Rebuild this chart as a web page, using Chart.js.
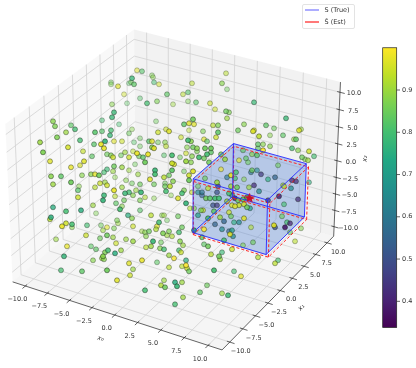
<!DOCTYPE html>
<html>
<head>
<meta charset="utf-8">
<style>
  html, body { margin: 0; padding: 0; background: #fff; }
  canvas { display: block; }
</style>
<script src="https://cdn.jsdelivr.net/npm/chart.js@4"></script>
</head>
<body>
<canvas id="chart" width="416" height="368"></canvas>
<script>
// axes of the 3d box, in data units
const axisTicks = [-10, -7.5, -5, -2.5, 0, 2.5, 5, 7.5, 10];
const tickLabels = ["−10.0", "−7.5", "−5.0", "−2.5", "0.0", "2.5", "5.0", "7.5", "10.0"];
const colorTicks = [0.4, 0.5, 0.6, 0.7, 0.8, 0.9];
const colorLabels = ["0.4", "0.5", "0.6", "0.7", "0.8", "0.9"];
const colorRange = [0.338, 1.0];
const legendLabels = ["S (True)", "Ŝ (Est)"];

// the two boxes, [x0 low, x0 high, x1 low, x1 high, x2 low, x2 high]
const boxTrue = [1.6, 9.6, 0.5, 8.5, -7.2, 0.8];
const boxEst = [1.7, 9.9, 0.4, 8.4, -7.4, 0.5];
const boxCenter = [5.6, 4.5, -3.2];

// scatter points: a single view can't give x0/x1/x2 back,
// so each one is kept as its place on the view plane, plus how faded (far) it looks
const viewX = [
  -6.5,-6.5,-5.8,-4.7,-5.2,-6.4,-4.9,-6.2,-6.4,-7.4,
  -5.7,-12.3,-12.1,-10.5,-10.1,-11.0,-8.1,-7.4,-6.5,-6.6,
  -4.7,-13.6,-11.9,-9.6,-7.1,-7.5,-8.2,-6.2,-5.4,-7.2,
  -10.8,-13.3,-9.3,-8.4,-6.9,-6.5,-6.3,-5.5,-5.1,-4.7,
  -12.6,-9.2,-9.6,-10.5,-6.2,-5.4,-6.9,-7.2,-6.3,-4.7,
  -12.5,-11.5,-9.4,-8.5,-8.1,-7.7,-6.1,-5.0,-7.1,-7.6,
  -12.3,-10.5,
  -3.9,-3.4,-2.4,-2.3,-4.4,-4.5,-4.2,-2.2,-1.7,1.6,
  4.6,5.0,5.1,-3.6,-2.9,-1.9,-0.9,0.7,1.2,1.2,
  2.0,-0.3,3.4,3.9,5.0,5.3,5.1,1.7,0.8,1.3,
  1.8,3.7,4.2,1.3,-2.0,-4.4,-1.8,-1.0,-0.7,2.7,
  4.2,4.0,0.5,-3.6,-4.2,-2.7,-2.4,-1.8,1.2,1.5,
  2.8,3.1,-3.6,-2.4,-2.2,-1.1,-1.0,1.1,1.7,2.1,
  2.9,3.5,-4.3,-3.9,-2.8,-1.2,-0.4,0.4,1.0,2.1,
  3.1,3.5,1.6,-3.7,-3.3,-3.1,-4.1,-0.4,-0.2,1.0,
  1.5,2.3,2.8,3.3,4.5,4.9,-2.1,-0.4,0.8,1.7,
  1.3,1.3,-2.1,-3.8,-1.2,-2.6,-0.7,-0.3,-4.4,-3.6,
  -2.2,-1.1,4.5,2.9,4.1,5.1,
  7.8,11.0,6.8,6.2,9.0,9.8,7.7,7.8,9.4,10.7,
  8.3,12.5,12.3,11.8,12.0,8.2,8.7,9.4,8.2,8.7,
  11.6,12.2,13.3,13.8,12.6,12.9,13.2,6.7,7.6,8.1,
  7.0,7.2,6.3,10.2,6.0,7.6,7.5,8.1,8.5,9.9,
  9.2,6.8,5.9,5.5,13.3,11.6,12.0,7.8,10.7,
  -9.7,-8.1,-6.9,-6.2,-5.4,-9.8,-9.8,-7.2,-7.3,-6.1,
  -5.1,-4.7,-6.0,-5.2,-8.3,-12.3,-11.0,-9.5,-8.0,-5.6,
  -5.4,-4.8,-12.5,-12.6,-11.0,-11.4,-10.4,-10.4,-8.9,-7.5,
  -5.9,-5.8,-6.9,-7.3,-6.2,-12.0,-9.0,-7.6,-6.9,-6.3,
  -5.0,-6.0,-10.9,-8.5,-8.0,-6.8,-7.1,-5.5,-6.1,-7.3,
  -7.4,-8.3,-7.2,-11.2,-4.7,-11.5,-9.4,-6.9,-4.6,-5.9,
  -4.0,-3.5,-4.3,-3.6,-3.1,-2.2,-1.0,-0.6,-1.1,-0.5,
  0.6,0.8,0.2,1.0,1.6,2.2,3.2,1.4,1.8,-3.6,
  -2.5,-1.4,-1.2,-0.9,0.2,-4.4,-1.7,-4.3,-1.9,-2.0,
  -3.1,-3.4,-2.7,-3.0,-1.3,-0.7,-0.9,-0.4,0.3,0.6,
  1.8,2.8,2.6,2.8,3.2,0.4,-2.3,-4.3,-1.5,-2.5,
  -3.0,-1.6,-1.2,0.3,0.7,-0.7,-0.2,0.5,3.5,4.6,
  4.3,4.4,-3.4,-1.9,1.0,
  -4.3,-0.7,0.6,1.0,1.1,1.3,3.8,
  -1.2,-1.5,
  -1.1,-0.1,0.1,0.6,3.1,-3.1,2.4,4.6,5.2,0.7,-0.1,
  3.0,3.4,3.9,4.3,4.1,3.7,4.1,3.8,4.4,2.7,
  2.5,2.2,3.2,5.3,4.8,3.9,4.6,5.3,5.1,4.2,
  5.3,2.6,2.2,2.6,4.8,
  5.5,6.1,7.3,8.3,10.8,11.5,10.3,12.2,9.2,5.6,
  5.9,6.7,7.1,6.2,10.8,6.3,6.8,5.9,5.6,7.4,
  7.1,5.5,10.6,6.8,5.8,6.3,7.5,11.1,9.8,9.9,
  10.9,11.4,12.5,11.4,5.4,5.6,5.7,6.7,7.7,5.6,
  8.2,11.9,10.2,9.9,5.8,6.5
];
const viewY = [
  10.0,9.8,9.6,9.9,8.8,7.8,7.9,7.0,6.5,6.2,
  5.8,6.1,5.6,5.7,5.3,5.0,5.0,5.1,5.2,4.7,
  4.9,4.0,4.5,4.2,4.1,3.8,3.8,4.1,4.1,3.4,
  3.5,3.0,3.1,2.6,2.8,2.7,2.5,2.7,3.0,2.5,
  2.1,2.1,1.7,1.5,1.6,1.5,1.3,1.0,1.1,1.2,
  0.6,0.6,0.7,0.8,0.8,0.7,0.5,0.2,0.0,-0.1,
  -0.2,0.0,
  11.2,11.1,10.7,10.5,10.4,10.0,9.8,10.0,9.8,9.9,
  9.9,10.9,9.3,8.4,7.9,8.1,8.8,8.8,9.0,8.1,
  8.0,7.8,7.9,7.3,7.1,7.0,6.4,6.3,5.8,5.9,
  5.8,5.7,5.7,5.2,6.1,5.3,5.0,5.3,5.1,5.1,
  5.0,4.5,4.5,4.4,4.0,4.1,4.1,4.0,4.2,4.1,
  4.3,4.1,3.6,3.5,3.4,4.0,3.6,3.5,3.5,3.4,
  3.4,3.4,3.1,2.9,2.8,2.7,2.7,2.5,2.9,3.1,
  2.8,3.0,2.6,2.6,2.5,2.0,1.8,1.9,1.8,2.1,
  2.0,2.5,2.4,2.0,2.8,2.3,1.2,1.2,1.1,1.1,
  0.7,0.2,0.8,0.8,0.5,0.3,0.7,0.1,-0.1,-0.2,
  -0.2,-0.1,1.3,0.4,0.0,0.5,
  8.0,6.4,5.8,5.2,5.7,5.4,5.1,5.2,4.7,4.7,
  4.6,5.3,5.2,4.3,4.3,3.8,3.8,3.6,3.4,3.2,
  3.4,3.2,3.1,2.6,2.5,2.3,2.2,3.2,2.8,2.7,
  2.4,2.0,2.2,1.7,1.0,1.2,1.0,1.2,0.8,0.5,
  0.3,0.3,0.4,0.7,0.0,0.2,0.1,-0.3,-0.3,
  -0.4,-0.5,-0.3,-0.8,-0.5,-0.8,-1.5,-1.3,-1.8,-1.4,
  -1.1,-1.0,-2.1,-1.8,-2.3,-2.5,-2.9,-2.8,-3.1,-2.7,
  -2.4,-3.3,-3.5,-3.7,-4.1,-4.4,-4.2,-4.5,-4.3,-4.3,
  -3.8,-4.1,-4.5,-4.8,-4.6,-5.7,-5.3,-5.6,-5.3,-5.5,
  -5.7,-6.1,-6.4,-6.4,-6.7,-6.8,-7.0,-6.8,-7.1,-7.4,
  -7.6,-7.8,-7.7,-7.4,-8.1,-8.8,-8.9,-8.8,-9.3,-9.8,
  -0.8,-1.0,-1.3,-1.8,-1.5,-1.6,-0.9,-0.4,-0.4,-1.3,
  -1.1,-0.8,-1.6,-2.1,-1.0,-0.4,-0.6,-2.6,-2.6,-2.8,
  -3.3,-3.3,-3.3,-3.8,-3.4,-3.6,-4.0,-4.4,-4.4,-4.7,
  -5.0,-4.9,-4.9,-5.4,-5.1,-4.9,-5.3,-5.4,-5.0,-4.5,
  -4.8,-4.7,-5.5,-6.2,-6.4,-5.9,-5.9,-5.9,-6.0,-6.4,
  -6.5,-6.6,-6.7,-6.8,-6.3,-7.3,-7.6,-7.0,-7.2,-7.0,
  -7.4,-7.7,-7.8,-8.0,-7.8,
  -8.7,-8.5,-8.4,-8.3,-8.6,-8.9,-8.8,
  -9.8,-10.3,
  -10.5,-10.0,-10.4,-10.0,-10.3,-10.8,-11.0,-11.1,-11.3,-11.5,-12.2,
  -1.6,-1.6,-1.6,-1.6,-1.0,-2.3,-2.3,-2.9,-3.5,-2.8,
  -2.8,-3.3,-3.6,-3.0,-3.9,-4.2,-4.7,-4.9,-1.9,-0.4,
  -1.1,-1.3,-1.0,-1.0,-5.8,
  -0.4,-0.5,-0.5,-0.9,-0.4,-0.6,-1.4,-1.7,-1.8,-1.3,
  -1.6,-1.7,-1.5,-1.8,-2.2,-2.3,-2.2,-2.4,-2.3,-2.6,
  -2.5,-3.4,-3.4,-3.6,-4.0,-4.0,-4.5,-4.0,-4.3,-4.5,
  -4.5,-4.1,-4.6,-5.0,-5.2,-4.8,-5.4,-6.3,-6.0,-6.7,
  -7.5,-5.9,-7.8,-8.1,-8.9,-9.4
];
const score = [
  .85,.87,.97,.82,.95,.88,.83,.78,.78,.8,
  .8,.88,.87,.83,.8,.9,.82,.82,.8,.78,
  .85,.9,.87,.8,.77,.98,.82,.97,.95,.98,
  .96,.87,.94,.83,.85,.87,.95,.85,.9,.95,
  .97,.97,.96,.98,.85,.9,.78,.8,.9,.9,
  .88,.83,.88,.88,.97,.85,.88,.88,.9,.95,
  .9,.85,
  .97,.82,.87,.88,.78,.85,.83,.8,.95,.93,
  .88,.93,.85,.82,.8,.87,.83,.93,.82,.87,
  .82,.9,.95,.95,.85,.87,.9,.85,.83,.97,
  .97,.93,.87,.93,.85,.88,.95,.95,.97,.87,
  .83,.95,.95,.85,.82,.82,.97,.85,.8,.88,
  .97,.83,.85,.88,.97,.88,.93,.88,.85,.88,
  .85,.85,.93,.98,.98,.82,.8,.85,.95,.87,
  .8,.83,.88,.85,.83,.85,.85,.95,.97,.9,
  .88,.8,.85,.85,.85,.9,.78,.83,.85,.97,
  .95,.85,.8,.9,.93,.97,.85,.88,.85,.85,
  .85,.85,.98,.85,.9,.6,
  .78,.78,.88,.85,.83,.85,.97,.95,.88,.83,
  .93,.9,.97,.9,.83,.83,.88,.88,.83,1,
  .8,.88,.95,.8,.85,.87,.9,.83,.88,.83,
  .83,.85,.97,.85,.8,.85,.6,.65,.45,.55,
  .75,.88,.8,.97,.75,.4,.42,.42,.9,
  .88,.93,.95,.98,.9,.82,.95,.78,.77,.93,
  .78,.8,.83,.85,.9,.75,.8,.75,.87,.8,
  .88,.75,.75,.93,.95,.98,.8,.88,.8,.85,
  .87,.9,.97,.9,.87,.9,.95,.85,.85,.9,
  .9,.95,.98,.83,.83,.8,.87,.9,.75,.88,
  .9,.88,.88,.77,.97,.8,.83,.85,.95,.97,
  .9,.78,.88,.87,.92,.88,.8,.93,.85,.88,
  .8,.87,.97,.77,.95,.85,.93,.92,.88,.82,
  .93,.88,.9,.85,.85,.88,.8,.95,.97,.92,
  .88,.9,.85,.88,.87,.87,.9,.92,.8,.85,
  .75,1,.83,.83,.85,.88,.78,.9,.85,.9,
  .93,.88,.8,.8,.9,.9,1,.95,.93,.78,
  .85,.9,.98,.83,.75,
  .9,.93,.93,1,.95,.85,.8,
  .9,.92,
  .85,.75,.78,.9,.85,.8,.83,.9,.78,.9,.8,
  .85,.83,.8,.8,.5,.5,.45,.83,.9,.95,
  .87,.7,.8,.95,.55,.55,.65,.55,.9,.45,
  .8,.55,.65,.6,.8,
  .9,.85,.9,.65,.95,.65,.4,.42,.45,.65,
  .4,.85,.8,.85,.8,.95,.95,.97,.97,.7,
  .85,.85,.85,.97,.75,.65,.92,.8,.97,.5,
  .38,.4,.88,.85,.97,.7,.65,.87,.85,.95,
  .92,.93,.8,.93,.8,.97
];
const depth = [
  .3,.3,.6,.2,.3,.4,.2,.8,.8,.4,
  .3,.8,.8,.6,.8,.7,.9,.6,.7,.8,
  .4,.9,.9,.8,1,1,.7,.5,.5,1,
  .9,1,.6,.6,.6,.7,.8,.5,.6,.7,
  .8,.9,.6,.8,.8,.7,.6,.6,.5,.4,
  .9,.8,.6,.7,.8,1,.3,.4,.6,.7,
  .8,1,
  .4,.5,.3,.3,.8,.4,.7,.4,.4,.4,
  .6,.4,.3,.3,.7,.5,.6,.4,.5,.3,
  .5,.3,.5,.4,.7,.6,.6,.9,.8,.8,
  .7,.6,.7,.3,.3,.3,.7,.5,.9,.5,
  .9,.7,.5,.3,.3,.7,.8,.4,1,.9,
  .6,.6,.3,.9,1,.5,.5,.5,.8,.8,
  1,1,.4,1,1,.4,1,.4,.5,.6,
  1,.8,.7,.6,.8,1,.3,1,.9,1,
  .7,1,.8,.9,.8,.9,1,1,.4,1,
  .9,1,1,.5,.8,.9,.7,.8,.4,.6,
  .6,.4,.6,.6,.9,.6,
  .7,.8,.6,.7,.7,.5,.9,.6,.4,.6,
  .9,.5,.8,.5,.8,.7,.6,.6,.6,1,
  .7,.6,.8,.6,.7,.6,.7,.6,.6,.8,
  .6,.5,.6,.5,.8,.7,.6,.5,.7,.7,
  .6,.4,.7,1,.5,.7,.7,.7,.5,
  .4,.6,.8,1,.6,.7,.8,.9,1,.5,
  .9,.8,.6,.6,.6,.8,.9,.9,.3,1,
  .5,.7,.9,.8,.9,1,.9,.5,.6,.4,
  .5,.4,.5,.5,.5,.5,.7,.6,.9,.6,
  .6,.6,.7,.5,.6,.9,.8,.7,.9,1,
  .7,.6,.7,.9,.8,.7,.8,1,.7,.9,
  .5,1,.6,.6,.5,.3,.9,.9,.7,.3,
  .9,.7,.9,1,.6,.4,.7,.5,.5,.5,
  .7,.4,.4,.3,.6,.7,.9,.6,.7,.7,
  .6,.4,.7,.6,.9,.7,.6,.6,.8,.7,
  1,.9,.9,.6,.9,.8,1,.8,.5,.8,
  .6,.7,.8,.7,.6,.7,.8,.7,.7,.6,
  .9,.7,.9,.5,.7,
  .6,.6,.6,.9,.8,.8,1,
  .6,.8,
  .9,.9,1,.7,.6,.9,.7,.6,.9,.7,.8,
  .9,.9,1,1,.7,.7,.7,.9,.8,.7,
  .7,.7,1,.7,.8,.7,.7,.6,.9,.7,
  .9,.6,.6,.6,.9,
  .8,.9,.6,.7,.6,.7,.9,.7,.8,.7,
  .9,1,1,.9,.6,.9,.9,.9,.8,.7,
  .9,.7,.6,.9,.6,.7,.5,.7,1,.8,
  1,.7,.5,.5,.9,.7,.7,.5,.6,.8,
  .7,.5,.6,.7,.6,.7
];

// same camera as a default matplotlib 3d axes (elev 30, azim -60, box 4:4:3)
const LIM = 11.46;
const HALF_XY = 0.5714;
const HALF_Z = 0.4286;
const CAM_DIST = 10;
const VIEW_SCALE = 21;

function project(x0, x1, x2) {
  const a = x0 / LIM * HALF_XY;
  const b = x1 / LIM * HALF_XY;
  const c = x2 / LIM * HALF_Z;
  const u = 0.866 * a + 0.5 * b;
  const v = -0.25 * a + 0.433 * b + 0.866 * c;
  const w = 0.433 * a - 0.75 * b + 0.5 * c;
  const s = CAM_DIST / (CAM_DIST - w) * VIEW_SCALE;
  return { x: u * s, y: v * s };
}

const GAP = { x: NaN, y: NaN };

function polyline(list) {
  const out = [];
  list.forEach(function (seg) {
    seg.forEach(function (p) { out.push(project(p[0], p[1], p[2])); });
    out.push(GAP);
  });
  return out;
}

function lineSet(data, color, width, order, dash) {
  return {
    type: "line",
    data: data,
    borderColor: color,
    borderWidth: width,
    borderDash: dash || [],
    pointRadius: 0,
    tension: 0,
    fill: false,
    spanGaps: false,
    order: order,
  };
}

function faceSet(corners, color, order) {
  return {
    type: "line",
    data: corners.map(function (p) { return project(p[0], p[1], p[2]); }),
    borderWidth: 0,
    backgroundColor: color,
    pointRadius: 0,
    tension: 0,
    fill: "shape",
    order: order,
  };
}

const L = LIM;

// grid on the three panes
const gridSegments = [];
axisTicks.forEach(function (t) {
  gridSegments.push([[t, -L, -L], [t, L, -L], [t, L, L]]);
  gridSegments.push([[L, t, -L], [-L, t, -L], [-L, t, L]]);
  gridSegments.push([[-L, -L, t], [-L, L, t], [L, L, t]]);
});

const axisSegments = [
  [[-L, -L, -L], [L, -L, -L], [L, L, -L], [L, L, L]],
];
axisTicks.forEach(function (t) {
  axisSegments.push([[t, -L + 0.3, -L], [t, -L - 0.5, -L]]);
  axisSegments.push([[L - 0.3, t, -L], [L + 0.5, t, -L]]);
  axisSegments.push([[L - 0.3, L, t], [L + 0.5, L, t]]);
});

function boxEdges(b) {
  const x = [b[0], b[1]], y = [b[2], b[3]], z = [b[4], b[5]];
  return [
    [[x[0], y[0], z[0]], [x[1], y[0], z[0]], [x[1], y[1], z[0]], [x[0], y[1], z[0]], [x[0], y[0], z[0]]],
    [[x[0], y[0], z[1]], [x[1], y[0], z[1]], [x[1], y[1], z[1]], [x[0], y[1], z[1]], [x[0], y[0], z[1]]],
    [[x[0], y[0], z[0]], [x[0], y[0], z[1]]],
    [[x[1], y[0], z[0]], [x[1], y[0], z[1]]],
    [[x[1], y[1], z[0]], [x[1], y[1], z[1]]],
    [[x[0], y[1], z[0]], [x[0], y[1], z[1]]],
  ];
}

function boxFaces(b, color, order) {
  const x = [b[0], b[1]], y = [b[2], b[3]], z = [b[4], b[5]];
  const sets = [];
  z.forEach(function (k) {
    sets.push(faceSet([[x[0], y[0], k], [x[1], y[0], k], [x[1], y[1], k], [x[0], y[1], k]], color, order));
  });
  x.forEach(function (k) {
    sets.push(faceSet([[k, y[0], z[0]], [k, y[1], z[0]], [k, y[1], z[1]], [k, y[0], z[1]]], color, order));
  });
  y.forEach(function (k) {
    sets.push(faceSet([[x[0], k, z[0]], [x[1], k, z[0]], [x[1], k, z[1]], [x[0], k, z[1]]], color, order));
  });
  return sets;
}

// viridis
const viridis = [
  [68, 1, 84], [72, 36, 117], [65, 68, 135], [53, 95, 141], [42, 120, 142], [33, 145, 140],
  [34, 168, 132], [68, 191, 112], [122, 209, 81], [189, 223, 38], [253, 231, 37],
];

function viridisAt(t) {
  const f = Math.min(Math.max(t, 0), 1) * (viridis.length - 1);
  const i = Math.min(Math.floor(f), viridis.length - 2);
  const k = f - i;
  return viridis[i].map(function (c, n) { return Math.round(c + (viridis[i + 1][n] - c) * k); });
}

function scoreColor(v, alpha) {
  const t = (v - colorRange[0]) / (colorRange[1] - colorRange[0]);
  return "rgba(" + viridisAt(t).join(",") + "," + alpha + ")";
}

// far points first, so the near ones sit on top
const drawOrder = viewX.map(function (v, i) { return i; }).sort(function (a, b) { return depth[a] - depth[b]; });

function fadeOf(i) {
  return 0.25 + 0.65 * depth[i];
}

const scatterSet = {
  type: "scatter",
  data: drawOrder.map(function (i) { return { x: viewX[i], y: viewY[i] }; }),
  pointRadius: 2.5,
  pointBorderWidth: 0.7,
  pointBackgroundColor: drawOrder.map(function (i) { return scoreColor(score[i], fadeOf(i)); }),
  pointBorderColor: drawOrder.map(function (i) { return "rgba(20,30,20," + (fadeOf(i) * 0.75) + ")"; }),
  order: 6,
};

// filled star for the box center
function starImage(size, color) {
  const c = document.createElement("canvas");
  c.width = size;
  c.height = size;
  const g = c.getContext("2d");
  g.fillStyle = color;
  g.beginPath();
  for (let i = 0; i < 10; i++) {
    const r = (i % 2 === 0 ? size / 2 : size / 4.6);
    const a = -Math.PI / 2 + i * Math.PI / 5;
    g.lineTo(size / 2 + r * Math.cos(a), size / 2 + r * Math.sin(a));
  }
  g.closePath();
  g.fill();
  return c;
}

const datasets = [
  faceSet([[-L, -L, -L], [L, -L, -L], [L, L, -L], [-L, L, -L]], "rgba(236,236,236,0.5)", 20),
  faceSet([[-L, -L, -L], [-L, L, -L], [-L, L, L], [-L, -L, L]], "rgba(242,242,242,0.5)", 20),
  faceSet([[-L, L, -L], [L, L, -L], [L, L, L], [-L, L, L]], "rgba(230,230,230,0.5)", 20),
  lineSet(polyline(gridSegments), "#d2d2d2", 0.8, 19),
  lineSet(polyline(axisSegments), "#222222", 0.7, 18),
].concat(boxFaces(boxTrue, "rgba(75,125,210,0.2)", 8));

datasets.push(scatterSet);
datasets.push(lineSet(polyline(boxEdges(boxEst)), "rgba(255,30,30,0.95)", 1, 5, [3, 2]));
datasets.push(lineSet(polyline(boxEdges(boxTrue)), "rgba(40,40,255,0.9)", 1, 4));
datasets.push({
  type: "scatter",
  data: [project(boxCenter[0], boxCenter[1], boxCenter[2])],
  pointStyle: starImage(11, "#c4102c"),
  pointRadius: 5,
  order: 2,
});

// colour bar, on its own hidden value axis
datasets.push({
  type: "line",
  data: colorRange.map(function (v) { return { x: 21.37, y: v }; }),
  yAxisID: "yc",
  borderWidth: 14,
  pointRadius: 0,
  tension: 0,
  fill: false,
  order: 1,
  borderColor: function (context) {
    const chart = context.chart;
    if (!chart.chartArea || !chart.scales.yc) return "#444";
    const yc = chart.scales.yc;
    const grad = chart.ctx.createLinearGradient(0, yc.getPixelForValue(colorRange[0]), 0, yc.getPixelForValue(colorRange[1]));
    for (let i = 0; i <= 10; i++) {
      grad.addColorStop(i / 10, "rgb(" + viridis[i].join(",") + ")");
    }
    return grad;
  },
});

// tick labels, axis titles, legend and colour bar frame are plain canvas text
const annotations = {
  id: "annotations",
  afterDraw: function (chart) {
    const ctx = chart.ctx;
    const sx = chart.scales.x;
    const sy = chart.scales.y;
    const yc = chart.scales.yc;

    function px(p) {
      return { x: sx.getPixelForValue(p.x), y: sy.getPixelForValue(p.y) };
    }

    ctx.save();
    ctx.font = "6.5px 'DejaVu Sans'";
    ctx.fillStyle = "#333";
    ctx.textAlign = "center";
    ctx.textBaseline = "middle";

    axisTicks.forEach(function (t, i) {
      let p = px(project(t, -L, -L));
      ctx.fillText(tickLabels[i], p.x - 8, p.y + 13.5);
      p = px(project(L, t, -L));
      ctx.fillText(tickLabels[i], p.x + 11, p.y + 9);
      p = px(project(L, L, t));
      ctx.fillText(tickLabels[i], p.x + 14, p.y + 1.5);
    });

    function title(text, p, angle) {
      ctx.save();
      ctx.translate(p.x, p.y);
      ctx.rotate(angle);
      ctx.font = "italic 6.5px 'DejaVu Sans'";
      ctx.fillText(text, 0, 0);
      ctx.restore();
    }
    let mid = px(project(0, -L, -L));
    title("x₀", { x: mid.x - 14, y: mid.y + 23.5 }, 0.32);
    mid = px(project(L, 0, -L));
    title("x₁", { x: mid.x + 21, y: mid.y + 17 }, -0.78);
    mid = px(project(L, L, 0));
    title("x₂", { x: mid.x + 28, y: mid.y - 2 }, -1.5);

    // legend
    ctx.fillStyle = "rgba(255,255,255,0.8)";
    ctx.strokeStyle = "#dcdcdc";
    ctx.lineWidth = 0.8;
    ctx.beginPath();
    ctx.roundRect(302.5, 4.5, 52, 24, 1.5);
    ctx.fill();
    ctx.stroke();
    [["rgba(60,60,255,0.7)", 10], ["rgba(255,20,20,0.95)", 22]].forEach(function (row, i) {
      ctx.strokeStyle = row[0];
      ctx.lineWidth = 1.2;
      ctx.beginPath();
      ctx.moveTo(305, row[1]);
      ctx.lineTo(319, row[1]);
      ctx.stroke();
      ctx.fillStyle = "#333";
      ctx.textAlign = "left";
      ctx.fillText(legendLabels[i], 324.5, row[1]);
    });

    // colour bar frame and ticks
    const top = yc.getPixelForValue(colorRange[1]);
    const bottom = yc.getPixelForValue(colorRange[0]);
    ctx.strokeStyle = "#222";
    ctx.lineWidth = 0.7;
    ctx.strokeRect(382.7, top, 14, bottom - top);
    colorTicks.forEach(function (v, i) {
      const y = yc.getPixelForValue(v);
      ctx.beginPath();
      ctx.moveTo(396.7, y);
      ctx.lineTo(400, y);
      ctx.stroke();
      ctx.fillText(colorLabels[i], 402, y);
    });
    ctx.restore();
  },
};

new Chart(document.getElementById("chart"), {
  type: "scatter",
  data: { datasets: datasets },
  plugins: [annotations],
  options: {
    responsive: false,
    animation: false,
    events: [],
    layout: { padding: 0, autoPadding: false },
    plugins: {
      legend: { display: false },
      tooltip: { enabled: false },
      title: { display: false },
    },
    scales: {
      x: { type: "linear", min: -17.6, max: 24, display: false },
      y: { type: "linear", min: -18.57, max: 18.23, display: false },
      yc: { type: "linear", min: 0.2422, max: 1.113, display: false },
    },
  },
});
</script>
</body>
</html>
